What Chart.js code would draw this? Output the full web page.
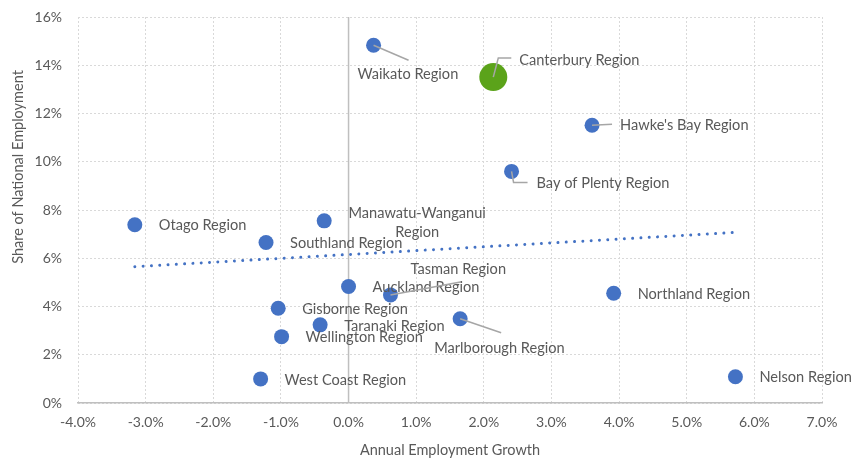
<!DOCTYPE html>
<html>
<head>
<meta charset="utf-8">
<script src="https://cdn.jsdelivr.net/npm/chart.js@4.4.1/dist/chart.umd.min.js"></script>
<style>
  html, body { margin: 0; padding: 0; background: #fff; }
  #wrap { width: 852px; height: 460px; position: relative; }
</style>
</head>
<body>
<div id="wrap"><canvas id="chart"></canvas></div>
<script>
// regional employment: growth vs share of national employment (values in %)
const regions = [
  'Waikato Region', 'Canterbury Region', "Hawke's Bay Region", 'Bay of Plenty Region',
  'Otago Region', 'Manawatu-Wanganui\nRegion', 'Southland Region', 'Auckland Region',
  'Tasman Region', 'Gisborne Region', 'Taranaki Region', 'Wellington Region',
  'Marlborough Region', 'Northland Region', 'Nelson Region', 'West Coast Region',
];
const growth = [0.37, 2.14, 3.60, 2.41, -3.16, -0.36, -1.22, 0.00, 0.62, -1.04, -0.42, -0.99, 1.65, 3.92, 5.72, -1.30];
const share = [14.83, 13.51, 11.51, 9.60, 7.39, 7.55, 6.65, 4.83, 4.48, 3.93, 3.24, 2.75, 3.49, 4.55, 1.09, 1.00];
const highlight = 'Canterbury Region';

const xTicks = [-4, -3, -2, -1, 0, 1, 2, 3, 4, 5, 6, 7];
const yTicks = [0, 2, 4, 6, 8, 10, 12, 14, 16];

// label placement relative to the marker (px); leader = polyline from marker
const DEFAULT_LABEL = { dx: 24, dy: 1 };
const labelPlacement = {
  'Waikato Region': { dx: -16, dy: 29, leader: [[0, 0], [35, 15]] },
  'Canterbury Region': { dx: 26, dy: -17, leader: [[0, 0], [5, -19], [18, -19]] },
  "Hawke's Bay Region": { dx: 28, dy: 0, leader: [[0, 0], [20, -1]] },
  'Bay of Plenty Region': { dx: 25, dy: 12, leader: [[0, 0], [2, 11], [16, 11]] },
  'Manawatu-Wanganui\nRegion': { dx: 93, dy: -8, align: 'center', lineGap: 19 },
  'Tasman Region': { dx: 20, dy: -26, leader: [[0, 0], [70, -13]] },
  'Marlborough Region': { dx: -26, dy: 29, leader: [[0, 0], [41, 14]] },
};

const COLORS = {
  point: '#4472c4',
  highlight: '#5ba31a',
  text: '#595959',
  grid: '#d9d9d9',
  axis: '#bfbfbf',
  leader: '#a6a6a6',
};
const FONT = 'Lato, "Open Sans", sans-serif';

// least-squares linear trendline across the data range
function trendline(xs, ys) {
  const n = xs.length;
  const mx = xs.reduce((a, b) => a + b, 0) / n;
  const my = ys.reduce((a, b) => a + b, 0) / n;
  let sxy = 0, sxx = 0;
  for (let i = 0; i < n; i++) {
    sxy += (xs[i] - mx) * (ys[i] - my);
    sxx += (xs[i] - mx) ** 2;
  }
  const slope = sxy / sxx;
  const x0 = Math.min(...xs), x1 = Math.max(...xs);
  return [
    { x: x0, y: my + slope * (x0 - mx) },
    { x: x1, y: my + slope * (x1 - mx) },
  ];
}

const points = growth.map((g, i) => ({ x: g, y: share[i] }));

const overlay = {
  id: 'overlay',
  beforeDatasetsDraw(chart) {
    const { ctx, chartArea, scales } = chart;
    const x0 = scales.x.getPixelForValue(0);
    ctx.save();
    ctx.strokeStyle = COLORS.axis;
    ctx.lineWidth = 1.5;
    ctx.beginPath();
    ctx.moveTo(x0, chartArea.top);
    ctx.lineTo(x0, chartArea.bottom);
    ctx.stroke();
    ctx.restore();
  },
  afterDatasetsDraw(chart) {
    const { ctx, chartArea } = chart;
    const meta = chart.getDatasetMeta(0);
    ctx.save();
    ctx.font = '14.6px ' + FONT;
    ctx.fillStyle = COLORS.text;
    ctx.textBaseline = 'middle';
    meta.data.forEach((el, i) => {
      const name = regions[i];
      const p = labelPlacement[name] || DEFAULT_LABEL;
      if (p.leader) {
        ctx.strokeStyle = COLORS.leader;
        ctx.lineWidth = 1.5;
        ctx.beginPath();
        p.leader.forEach(([lx, ly], k) => {
          if (k === 0) ctx.moveTo(el.x + lx, el.y + ly);
          else ctx.lineTo(el.x + lx, el.y + ly);
        });
        ctx.stroke();
      }
      ctx.textAlign = p.align || 'left';
      name.split('\n').forEach((line, k) => {
        ctx.fillText(line, el.x + p.dx, el.y + p.dy + k * (p.lineGap || 16));
      });
    });

    // axis titles
    ctx.font = '14.5px ' + FONT;
    ctx.textAlign = 'center';
    ctx.fillText('Annual Employment Growth', (chartArea.left + chartArea.right) / 2, 450);
    ctx.translate(18, 167);
    ctx.rotate(-Math.PI / 2);
    ctx.fillText('Share of National Employment', 0, 0);
    ctx.restore();
  },
};

new Chart(document.getElementById('chart'), {
  data: {
    datasets: [
      {
        type: 'scatter',
        data: points,
        pointBackgroundColor: regions.map(r => r === highlight ? COLORS.highlight : COLORS.point),
        pointBorderWidth: 0,
        pointRadius: regions.map(r => r === highlight ? 14 : 7.5),
        pointHoverRadius: regions.map(r => r === highlight ? 14 : 7.5),
        clip: false,
        order: 2,
      },
      {
        type: 'line',
        data: trendline(growth, share),
        borderColor: COLORS.point,
        borderWidth: 3,
        borderDash: [0.01, 8.3],
        borderCapStyle: 'round',
        pointRadius: 0,
        fill: false,
        order: 1,
      },
    ],
  },
  options: {
    responsive: true,
    maintainAspectRatio: false,
    animation: false,
    devicePixelRatio: 1,
    layout: { autoPadding: false, padding: { top: 17, right: 30, left: 0, bottom: 0 } },
    plugins: { legend: { display: false }, tooltip: { enabled: false } },
    scales: {
      x: {
        type: 'linear',
        min: xTicks[0],
        max: xTicks[xTicks.length - 1],
        afterBuildTicks: s => { s.ticks = xTicks.map(v => ({ value: v })); },
        afterFit: s => { s.height = 57; s.paddingLeft = 0; s.paddingRight = 0; },
        ticks: {
          autoSkip: false,
          maxRotation: 0,
          padding: 11,
          color: COLORS.text,
          font: { family: FONT, size: 14 },
          callback: v => v.toFixed(1) + '%',
        },
        grid: { color: COLORS.grid, lineWidth: 1, drawTicks: false },
        border: { display: true, color: COLORS.axis, width: 1.5, dash: [2, 2] },
      },
      y: {
        type: 'linear',
        min: yTicks[0],
        max: yTicks[yTicks.length - 1],
        afterBuildTicks: s => { s.ticks = yTicks.map(v => ({ value: v })); },
        afterFit: s => { s.width = 78; s.paddingTop = 0; s.paddingBottom = 0; },
        ticks: {
          padding: 16,
          color: COLORS.text,
          font: { family: FONT, size: 14 },
          callback: v => v + '%',
        },
        grid: { color: COLORS.grid, lineWidth: 1, drawTicks: false },
        border: { display: false, dash: [2, 2] },
      },
    },
  },
  plugins: [overlay],
});
</script>
</body>
</html>
